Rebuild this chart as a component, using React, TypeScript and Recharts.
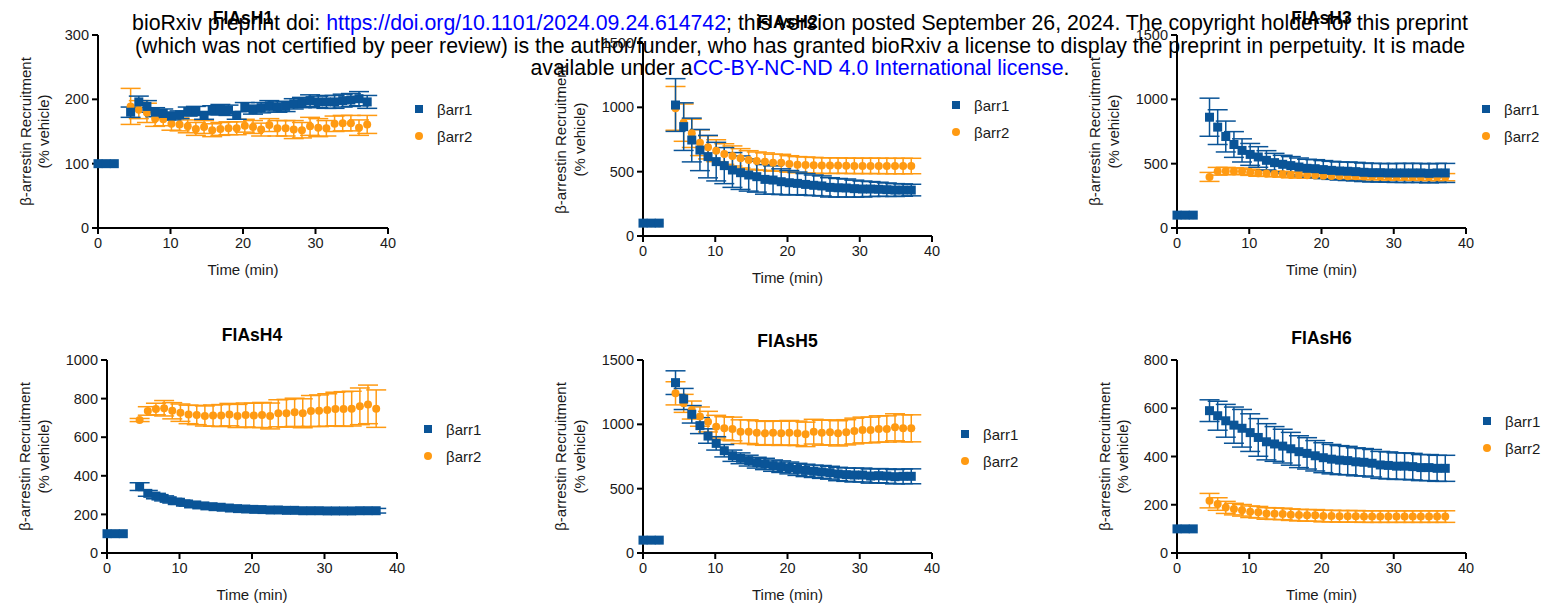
import React from "react"
import { ScatterChart, Scatter, XAxis, YAxis, ErrorBar } from "recharts"

const BLUE = "#0A5497"
const ORANGE = "#FF9A12"
const INK = "#1a1a1a"

// time points (min)
const baseTimes = [0, 1.13, 2.25]
const baseValues = [100, 100, 100]
const times = [
    4.5, 5.63, 6.75, 7.88, 9.0, 10.13, 11.25, 12.38, 13.5, 14.63,
    15.75, 16.88, 18.0, 19.13, 20.25, 21.38, 22.5, 23.63, 24.75, 25.88,
    27.0, 28.13, 29.25, 30.38, 31.5, 32.63, 33.75, 34.88, 36.0, 37.13,
]
const xTicks = [0, 10, 20, 30, 40]

// FlAsH1
const h1b1 = [180, 196, 189, 180, 178, 174, 176, 181, 182, 175, 183, 184, 183, 175, 188, 184, 187, 190, 188, 189, 193, 195, 198, 196, 196, 196, 198, 199, 201, 196]
const h1b1e = [8, 9, 9, 7, 7, 6, 6, 7, 7, 6, 7, 8, 8, 6, 7, 7, 8, 8, 8, 8, 8, 8, 9, 9, 10, 10, 10, 10, 11, 10]
const h1b2 = [189, 184, 179, 170, 169, 162, 161, 158, 154, 157, 152, 154, 155, 155, 159, 157, 153, 160, 155, 155, 153, 152, 158, 156, 155, 162, 163, 163, 156, 161]
const h1b2e = [28, 14, 15, 12, 10, 10, 10, 10, 10, 10, 10, 10, 10, 10, 10, 10, 10, 10, 12, 12, 14, 12, 14, 14, 12, 12, 12, 12, 12, 14]

// FlAsH2
const h2b1 = [1018, 850, 746, 668, 617, 578, 547, 513, 492, 474, 461, 440, 435, 422, 414, 409, 401, 394, 389, 378, 375, 373, 368, 365, 365, 363, 360, 357, 357, 357]
const h2b1e = [205, 185, 170, 160, 165, 150, 140, 135, 130, 125, 120, 115, 110, 100, 95, 88, 84, 80, 78, 75, 72, 70, 66, 62, 58, 55, 52, 50, 48, 45]
const h2b2 = [992, 881, 798, 725, 689, 663, 637, 622, 604, 591, 583, 578, 570, 570, 560, 554, 552, 549, 547, 547, 547, 546, 545, 545, 545, 545, 544, 544, 544, 544]
const h2b2e = [170, 145, 110, 100, 90, 85, 80, 78, 75, 72, 70, 68, 66, 65, 64, 63, 62, 62, 61, 61, 60, 60, 60, 60, 60, 60, 60, 60, 60, 60]

// FlAsH3
const h3b1 = [861, 784, 711, 649, 603, 572, 552, 526, 508, 495, 485, 474, 464, 461, 454, 448, 443, 441, 438, 433, 430, 430, 428, 428, 428, 428, 428, 425, 428, 428]
const h3b1e = [148, 135, 120, 100, 90, 85, 80, 75, 72, 70, 70, 70, 70, 70, 70, 70, 70, 72, 72, 72, 72, 72, 72, 74, 74, 74, 74, 74, 74, 74]
const h3b2 = [397, 441, 443, 441, 441, 433, 425, 423, 420, 418, 412, 412, 410, 410, 407, 405, 404, 403, 402, 401, 400, 400, 399, 398, 398, 397, 397, 396, 396, 395]
const h3b2e = [35, 30, 28, 26, 25, 24, 23, 22, 22, 22, 22, 22, 22, 22, 22, 23, 23, 24, 24, 25, 25, 25, 26, 26, 27, 27, 27, 28, 28, 28]

// FlAsH4
const h4b1 = [344, 309, 295, 283, 271, 263, 254, 249, 244, 240, 237, 233, 230, 228, 226, 225, 223, 223, 221, 221, 219, 219, 219, 218, 218, 218, 218, 219, 219, 219]
const h4b1e = [20, 15, 14, 13, 12, 11, 11, 10, 10, 10, 10, 10, 10, 10, 10, 10, 10, 10, 10, 10, 10, 10, 10, 10, 10, 10, 10, 10, 11, 12]
const h4b2 = [689, 736, 746, 750, 737, 727, 718, 715, 710, 712, 712, 717, 710, 715, 713, 715, 710, 724, 724, 729, 724, 736, 737, 741, 746, 746, 748, 760, 770, 748]
const h4b2e = [8, 22, 30, 40, 42, 45, 48, 50, 52, 55, 57, 58, 60, 62, 63, 65, 67, 70, 72, 73, 75, 80, 82, 84, 87, 90, 90, 95, 100, 97]

// FlAsH5
const h5b1 = [1324, 1197, 1078, 990, 909, 852, 795, 756, 736, 718, 702, 692, 679, 671, 661, 650, 642, 635, 630, 624, 614, 609, 606, 606, 598, 601, 598, 593, 596, 596]
const h5b1e = [92, 82, 68, 62, 56, 52, 48, 44, 42, 42, 42, 44, 44, 45, 46, 47, 48, 48, 50, 50, 52, 52, 54, 54, 55, 55, 56, 56, 57, 58]
const h5b2 = [1241, 1163, 1111, 1060, 1021, 982, 969, 964, 943, 943, 935, 930, 935, 930, 935, 930, 922, 943, 935, 938, 930, 938, 948, 956, 956, 964, 964, 977, 969, 969]
const h5b2e = [90, 70, 70, 75, 80, 88, 90, 92, 92, 92, 93, 93, 93, 94, 95, 95, 95, 96, 97, 97, 98, 98, 100, 100, 100, 102, 102, 105, 105, 105]

// FlAsH6
const h6b1 = [590, 569, 548, 530, 517, 499, 479, 461, 452, 443, 432, 420, 413, 403, 395, 389, 385, 383, 378, 376, 372, 365, 363, 360, 360, 358, 354, 354, 351, 351]
const h6b1e = [45, 60, 68, 75, 78, 78, 78, 75, 72, 70, 68, 66, 65, 63, 62, 61, 60, 59, 58, 57, 57, 56, 56, 55, 55, 55, 54, 54, 54, 54]
const h6b2 = [217, 203, 189, 182, 177, 171, 169, 164, 163, 162, 159, 157, 156, 156, 153, 153, 152, 152, 152, 151, 151, 151, 151, 151, 151, 151, 151, 151, 151, 151]
const h6b2e = [30, 26, 25, 24, 24, 24, 24, 24, 24, 24, 24, 24, 24, 24, 24, 24, 24, 24, 24, 24, 24, 24, 24, 24, 24, 24, 24, 24, 24, 24]

const seriesNames = ["βarr1", "βarr2"]

// build rows: baseline + time course
const rows = (vals: number[], errs: number[]) => [
    ...baseTimes.map((t, i) => ({ t, v: baseValues[i], e: 0 })),
    ...times.map((t, i) => ({ t, v: vals[i], e: errs[i] })),
]

const panels = [
    { title: "FlAsH1", yTicks: [0, 100, 200, 300], b1: rows(h1b1, h1b1e), b2: rows(h1b2, h1b2e),
      plot: { l: 98, r: 388, t: 35, b: 228 }, titleY: 18, leg: { x: 419, y: 109 } },
    { title: "FlAsH2", yTicks: [0, 500, 1000, 1500], b1: rows(h2b1, h2b1e), b2: rows(h2b2, h2b2e),
      plot: { l: 643, r: 932, t: 43, b: 236 }, titleY: 22, leg: { x: 956, y: 105 } },
    { title: "FlAsH3", yTicks: [0, 500, 1000, 1500], b1: rows(h3b1, h3b1e), b2: rows(h3b2, h3b2e),
      plot: { l: 1177, r: 1466, t: 35, b: 228 }, titleY: 18, leg: { x: 1486, y: 109 } },
    { title: "FlAsH4", yTicks: [0, 200, 400, 600, 800, 1000], b1: rows(h4b1, h4b1e), b2: rows(h4b2, h4b2e),
      plot: { l: 107, r: 397, t: 360, b: 553 }, titleY: 335, leg: { x: 428, y: 429 } },
    { title: "FlAsH5", yTicks: [0, 500, 1000, 1500], b1: rows(h5b1, h5b1e), b2: rows(h5b2, h5b2e),
      plot: { l: 643, r: 932, t: 360, b: 553 }, titleY: 341, leg: { x: 965, y: 434 } },
    { title: "FlAsH6", yTicks: [0, 200, 400, 600, 800], b1: rows(h6b1, h6b1e), b2: rows(h6b2, h6b2e),
      plot: { l: 1177, r: 1466, t: 360, b: 553 }, titleY: 338, leg: { x: 1487, y: 421 } },
]

const AXIS_W = 100
const X_H = 50
const PAD = 10

const Square = (p: any) => <rect x={p.cx - 4.5} y={p.cy - 4.5} width={9} height={9} fill={BLUE} />
const Dot = (p: any) => <circle cx={p.cx} cy={p.cy} r={4} fill={ORANGE} />

function Panel({ cfg }: { cfg: (typeof panels)[number] }) {
    const { plot, yTicks } = cfg
    const w = plot.r - plot.l + AXIS_W + PAD
    const h = plot.b - plot.t + PAD + X_H
    const wide = yTicks[yTicks.length - 1] >= 1000
    const off1 = wide ? 83 : 73
    const off2 = wide ? 64 : 55

    const yLabel = (props: any) => {
        const vb = props.viewBox || { x: 0, y: PAD, width: AXIS_W, height: plot.b - plot.t }
        const right = vb.x + vb.width
        const cy = vb.y + vb.height / 2
        return (
            <g fill={INK} fontSize={15}>
                <text x={right - off1} y={cy} textAnchor="middle" dominantBaseline="central" transform={`rotate(-90, ${right - off1}, ${cy})`}>β-arrestin Recruitment</text>
                <text x={right - off2} y={cy} textAnchor="middle" dominantBaseline="central" transform={`rotate(-90, ${right - off2}, ${cy})`}>(% vehicle)</text>
            </g>
        )
    }
    const xLabel = (props: any) => {
        const vb = props.viewBox
        return (
            <text x={vb.x + vb.width / 2} y={vb.y + 41} textAnchor="middle" dominantBaseline="central" fill={INK} fontSize={15}>Time (min)</text>
        )
    }

    return (
        <>
            <div style={{ position: "absolute", left: plot.l - AXIS_W, top: plot.t - PAD }}>
                <ScatterChart width={w} height={h} margin={{ top: PAD, right: PAD, bottom: 0, left: 0 }}>
                    <XAxis
                        type="number"
                        dataKey="t"
                        domain={[0, 40]}
                        ticks={xTicks}
                        height={X_H}
                        axisLine={{ stroke: "#000", strokeWidth: 2 }}
                        tickLine={{ stroke: "#000", strokeWidth: 2 }}
                        tickSize={6}
                        tickMargin={4}
                        tick={{ fill: INK, fontSize: 14.5 }}
                        label={{ content: xLabel }}
                    />
                    <YAxis
                        type="number"
                        dataKey="v"
                        domain={[0, yTicks[yTicks.length - 1]]}
                        ticks={yTicks}
                        width={AXIS_W}
                        axisLine={{ stroke: "#000", strokeWidth: 2 }}
                        tickLine={{ stroke: "#000", strokeWidth: 2 }}
                        tickSize={6}
                        tickMargin={3}
                        tick={{ fill: INK, fontSize: 14.5 }}
                        label={{ content: yLabel }}
                    />
                    <Scatter name={seriesNames[1]} data={cfg.b2} shape={Dot} isAnimationActive={false}>
                        <ErrorBar dataKey="e" direction="y" width={10} stroke={ORANGE} strokeWidth={1.5} />
                    </Scatter>
                    <Scatter name={seriesNames[0]} data={cfg.b1} shape={Square} isAnimationActive={false}>
                        <ErrorBar dataKey="e" direction="y" width={10} stroke={BLUE} strokeWidth={1.5} />
                    </Scatter>
                </ScatterChart>
            </div>
            <div style={{ position: "absolute", left: (plot.l + plot.r) / 2 - 60, width: 120, top: cfg.titleY - 11, lineHeight: "22px", textAlign: "center", fontWeight: "bold", fontSize: 17.5, color: "#000" }}>
                {cfg.title}
            </div>
            {seriesNames.map((n, i) => (
                <div key={n} style={{ position: "absolute", left: cfg.leg.x - 4, top: cfg.leg.y + i * 27 - 10, height: 20, display: "flex", alignItems: "center", fontSize: 15, color: INK }}>
                    <span style={{ display: "inline-block", width: 8, height: 8, background: i === 0 ? BLUE : ORANGE, borderRadius: i === 0 ? 0 : 4 }} />
                    <span style={{ marginLeft: 14 }}>{n}</span>
                </div>
            ))}
        </>
    )
}

export default function App() {
    return (
        <div style={{ position: "absolute", left: 0, top: 0, width: 1554, height: 604, background: "#fff", fontFamily: "'Liberation Sans', Arial, sans-serif", overflow: "hidden" }}>
            {panels.map((p) => <Panel key={p.title} cfg={p} />)}
            <div style={{ position: "absolute", left: 0, top: 12, width: 1600, textAlign: "center", fontSize: 21.3, lineHeight: "22.5px", color: "#000" }}>
                bioRxiv preprint doi: <span style={{ color: "#0000FF" }}>https://doi.org/10.1101/2024.09.24.614742</span>; this version posted September 26, 2024. The copyright holder for this preprint
                <br />
                (which was not certified by peer review) is the author/funder, who has granted bioRxiv a license to display the preprint in perpetuity. It is made
                <br />
                available under a<span style={{ color: "#0000FF" }}>CC-BY-NC-ND 4.0 International license</span>.
            </div>
        </div>
    )
}
